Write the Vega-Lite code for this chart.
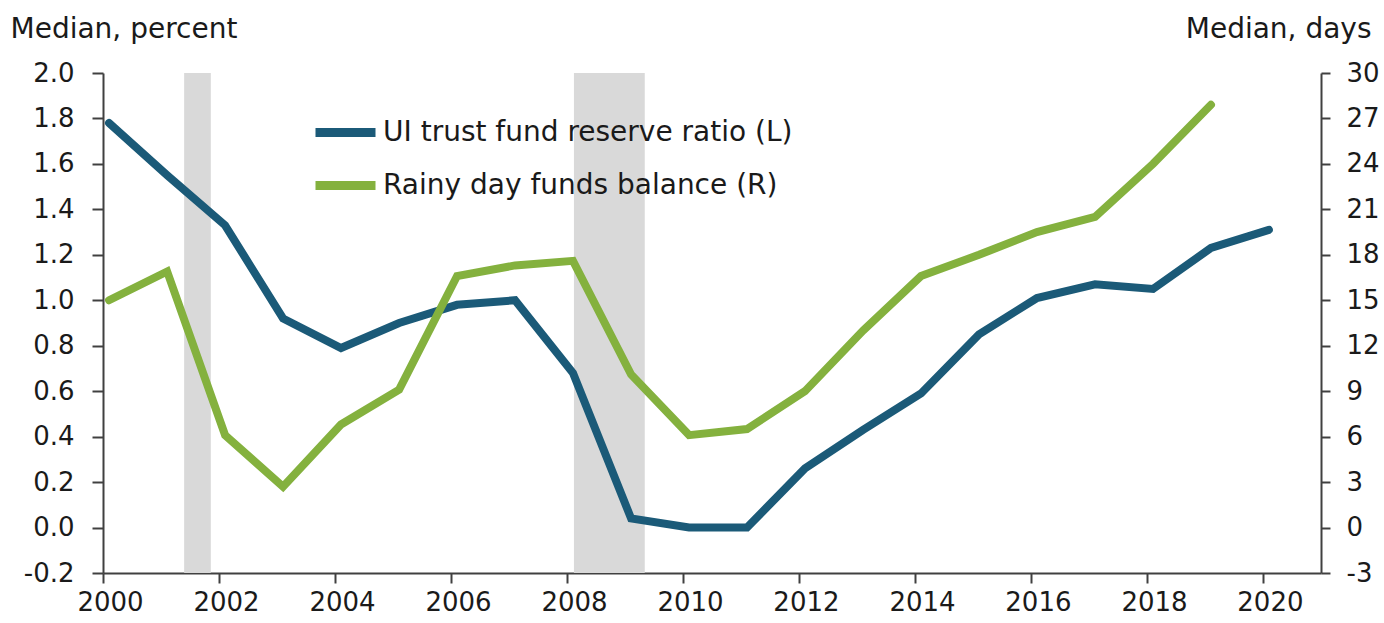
{
  "$schema": "https://vega.github.io/schema/vega-lite/v6.json",
  "width": 1218,
  "height": 500,
  "autosize": {"type": "none"},
  "padding": {"left": 103, "top": 73, "right": 63, "bottom": 50},
  "background": "white",
  "config": {
    "view": {"stroke": null},
    "font": "DejaVu Sans",
    "axis": {
      "domainColor": "#404040",
      "domainWidth": 2,
      "tickColor": "#404040",
      "tickWidth": 2,
      "labelColor": "#1a1a1a",
      "labelFontSize": 26,
      "labelFont": "DejaVu Sans",
      "titleFont": "DejaVu Sans",
      "titleFontSize": 28,
      "titleFontWeight": "normal",
      "titleColor": "#1a1a1a",
      "grid": false
    }
  },
  "datasets": {
    "series": [
      {"date": "2000-02-08", "series": "UI trust fund reserve ratio (L)", "value": 1.78},
      {"date": "2001-02-08", "series": "UI trust fund reserve ratio (L)", "value": 1.55},
      {"date": "2002-02-08", "series": "UI trust fund reserve ratio (L)", "value": 1.33},
      {"date": "2003-02-08", "series": "UI trust fund reserve ratio (L)", "value": 0.92},
      {"date": "2004-02-08", "series": "UI trust fund reserve ratio (L)", "value": 0.79},
      {"date": "2005-02-08", "series": "UI trust fund reserve ratio (L)", "value": 0.90},
      {"date": "2006-02-08", "series": "UI trust fund reserve ratio (L)", "value": 0.98},
      {"date": "2007-02-08", "series": "UI trust fund reserve ratio (L)", "value": 1.00},
      {"date": "2008-02-08", "series": "UI trust fund reserve ratio (L)", "value": 0.68},
      {"date": "2009-02-08", "series": "UI trust fund reserve ratio (L)", "value": 0.04},
      {"date": "2010-02-08", "series": "UI trust fund reserve ratio (L)", "value": 0.0},
      {"date": "2011-02-08", "series": "UI trust fund reserve ratio (L)", "value": 0.0},
      {"date": "2012-02-08", "series": "UI trust fund reserve ratio (L)", "value": 0.26},
      {"date": "2013-02-08", "series": "UI trust fund reserve ratio (L)", "value": 0.43},
      {"date": "2014-02-08", "series": "UI trust fund reserve ratio (L)", "value": 0.59},
      {"date": "2015-02-08", "series": "UI trust fund reserve ratio (L)", "value": 0.85},
      {"date": "2016-02-08", "series": "UI trust fund reserve ratio (L)", "value": 1.01},
      {"date": "2017-02-08", "series": "UI trust fund reserve ratio (L)", "value": 1.07},
      {"date": "2018-02-08", "series": "UI trust fund reserve ratio (L)", "value": 1.05},
      {"date": "2019-02-08", "series": "UI trust fund reserve ratio (L)", "value": 1.23},
      {"date": "2020-02-08", "series": "UI trust fund reserve ratio (L)", "value": 1.31},
      {"date": "2000-02-08", "series": "Rainy day funds balance (R)", "value": 15.0},
      {"date": "2001-02-08", "series": "Rainy day funds balance (R)", "value": 16.9},
      {"date": "2002-02-08", "series": "Rainy day funds balance (R)", "value": 6.1},
      {"date": "2003-02-08", "series": "Rainy day funds balance (R)", "value": 2.7},
      {"date": "2004-02-08", "series": "Rainy day funds balance (R)", "value": 6.8},
      {"date": "2005-02-08", "series": "Rainy day funds balance (R)", "value": 9.1},
      {"date": "2006-02-08", "series": "Rainy day funds balance (R)", "value": 16.6},
      {"date": "2007-02-08", "series": "Rainy day funds balance (R)", "value": 17.3},
      {"date": "2008-02-08", "series": "Rainy day funds balance (R)", "value": 17.6},
      {"date": "2009-02-08", "series": "Rainy day funds balance (R)", "value": 10.1},
      {"date": "2010-02-08", "series": "Rainy day funds balance (R)", "value": 6.1},
      {"date": "2011-02-08", "series": "Rainy day funds balance (R)", "value": 6.5},
      {"date": "2012-02-08", "series": "Rainy day funds balance (R)", "value": 9.0},
      {"date": "2013-02-08", "series": "Rainy day funds balance (R)", "value": 13.0},
      {"date": "2014-02-08", "series": "Rainy day funds balance (R)", "value": 16.6},
      {"date": "2015-02-08", "series": "Rainy day funds balance (R)", "value": 18.0},
      {"date": "2016-02-08", "series": "Rainy day funds balance (R)", "value": 19.5},
      {"date": "2017-02-08", "series": "Rainy day funds balance (R)", "value": 20.5},
      {"date": "2018-02-08", "series": "Rainy day funds balance (R)", "value": 24.0},
      {"date": "2019-02-08", "series": "Rainy day funds balance (R)", "value": 27.9}
    ],
    "recessions": [
      {"start": "2001-05-26", "end": "2001-11-10"},
      {"start": "2008-02-14", "end": "2009-05-05"}
    ]
  },
  "layer": [
    {
      "data": {"name": "recessions"},
      "mark": {"type": "rect", "color": "#d9d9d9"},
      "encoding": {
        "x": {
          "field": "start", "type": "temporal",
          "scale": {"type": "utc", "domain": [{"year": 2000, "month": 1, "date": 1, "utc": true}, {"year": 2021, "month": 1, "date": 1, "utc": true}]},
          "axis": {
            "title": null,
            "format": "%Y",
            "tickCount": {"interval": "year", "step": 2},
            "tickSize": 10,
            "labelPadding": 6,
            "labelOffset": 7,
            "labelFlush": false,
            "labelOverlap": false
          }
        },
        "x2": {"field": "end"}
      }
    },
    {
      "data": {"name": "series"},
      "transform": [{"filter": "datum.series === 'UI trust fund reserve ratio (L)'"}],
      "mark": {"type": "line", "strokeWidth": 8, "strokeCap": "round"},
      "encoding": {
        "x": {"field": "date", "type": "temporal"},
        "y": {
          "field": "value", "type": "quantitative",
          "scale": {"domain": [-0.2, 2.0], "nice": false, "zero": false},
          "axis": {
            "orient": "left",
            "values": [-0.2, 0, 0.2, 0.4, 0.6, 0.8, 1.0, 1.2, 1.4, 1.6, 1.8, 2.0],
            "format": ".1f",
            "labelExpr": "replace(datum.label, '\u2212', '-')",
            "tickSize": 11,
            "labelPadding": 18,
            "title": "Median, percent",
            "titleAngle": 0,
            "titleAlign": "left",
            "titleBaseline": "middle",
            "titleX": -93,
            "titleY": -44
          }
        },
        "color": {
          "field": "series", "type": "nominal",
          "scale": {"domain": ["UI trust fund reserve ratio (L)", "Rainy day funds balance (R)"], "range": ["#1b5a78", "#84b13e"]},
          "legend": {
            "title": null,
            "orient": "none",
            "legendX": 208,
            "legendY": 25,
            "symbolType": "stroke",
            "symbolSize": 3600,
            "symbolStrokeWidth": 9,
            "labelFontSize": 28,
            "labelFont": "DejaVu Sans",
            "labelColor": "#1a1a1a",
            "labelLimit": 0,
            "labelOffset": 3,
            "rowPadding": -20,
            "padding": 0
          }
        }
      }
    },
    {
      "data": {"name": "series"},
      "transform": [{"filter": "datum.series === 'Rainy day funds balance (R)'"}],
      "mark": {"type": "line", "strokeWidth": 8, "strokeCap": "round"},
      "encoding": {
        "x": {"field": "date", "type": "temporal"},
        "y": {
          "field": "value", "type": "quantitative",
          "scale": {"domain": [-3, 30], "nice": false, "zero": false},
          "axis": {
            "orient": "right",
            "values": [-3, 0, 3, 6, 9, 12, 15, 18, 21, 24, 27, 30],
            "labelExpr": "replace(datum.label, '\u2212', '-')",
            "tickSize": 9,
            "labelPadding": 16,
            "title": "Median, days",
            "titleAngle": 0,
            "titleAlign": "right",
            "titleBaseline": "middle",
            "titleX": 50,
            "titleY": -44
          }
        },
        "color": {"field": "series", "type": "nominal"}
      }
    }
  ],
  "resolve": {"scale": {"y": "independent"}}
}
